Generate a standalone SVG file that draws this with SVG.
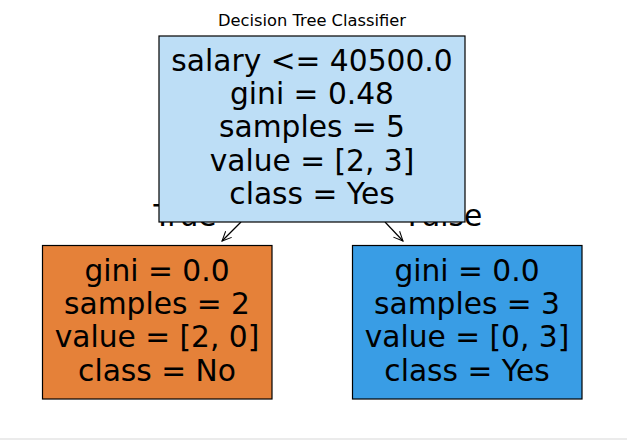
<svg xmlns="http://www.w3.org/2000/svg" width="627" height="440" viewBox="0 0 627 440">
  <style>
    text { font-family: "DejaVu Sans", "Liberation Sans", sans-serif; fill: #000; }
    .node text { font-size: 29.7px; text-anchor: middle; }
    .lbl { font-size: 29.7px; text-anchor: middle; }
    .box { stroke: #000; stroke-width: 1.2; }
    .edge { fill: none; stroke: #000; stroke-width: 1.2; }
  </style>
  <defs>
    <marker id="arr" markerUnits="userSpaceOnUse" markerWidth="24" markerHeight="24" refX="0" refY="0" viewBox="-14 -12 28 24" orient="auto" overflow="visible">
      <path d="M -11 -5 L 0 0 L -11 5" fill="none" stroke="#000" stroke-width="1.2"/>
    </marker>
  </defs>
  <rect x="0" y="0" width="627" height="440" fill="#fff"/>
  <rect x="0" y="438" width="627" height="2" fill="#ebebeb"/>
  <text x="312" y="26" font-size="16.3" text-anchor="middle">Decision Tree Classifier</text>

  <g id="edge-labels">
    <text class="lbl" x="185" y="226">True</text>
    <text class="lbl" x="445" y="226">False</text>
  </g>

  <g id="connectors">
    <line class="edge" x1="241" y1="222" x2="222" y2="241" marker-end="url(#arr)"/>
    <line class="edge" x1="385" y1="222" x2="403" y2="241" marker-end="url(#arr)"/>
  </g>

  <g id="node-root" class="node">
    <rect class="box" x="159" y="36" width="306" height="186" fill="#bddef6"/>
    <text x="312" y="70.5">salary &lt;= 40500.0</text>
    <text x="312" y="103.8">gini = 0.48</text>
    <text x="312" y="137.1">samples = 5</text>
    <text x="312" y="170.5">value = [2, 3]</text>
    <text x="312" y="203.8">class = Yes</text>
  </g>

  <g id="node-left" class="node">
    <rect class="box" x="42.5" y="245.5" width="229.5" height="153.5" fill="#e58139"/>
    <text x="157" y="280.5">gini = 0.0</text>
    <text x="157" y="313.8">samples = 2</text>
    <text x="157" y="347.1">value = [2, 0]</text>
    <text x="157" y="380.5">class = No</text>
  </g>

  <g id="node-right" class="node">
    <rect class="box" x="352.5" y="245.5" width="229.5" height="153.5" fill="#399de5"/>
    <text x="467" y="280.5">gini = 0.0</text>
    <text x="467" y="313.8">samples = 3</text>
    <text x="467" y="347.1">value = [0, 3]</text>
    <text x="467" y="380.5">class = Yes</text>
  </g>
</svg>
